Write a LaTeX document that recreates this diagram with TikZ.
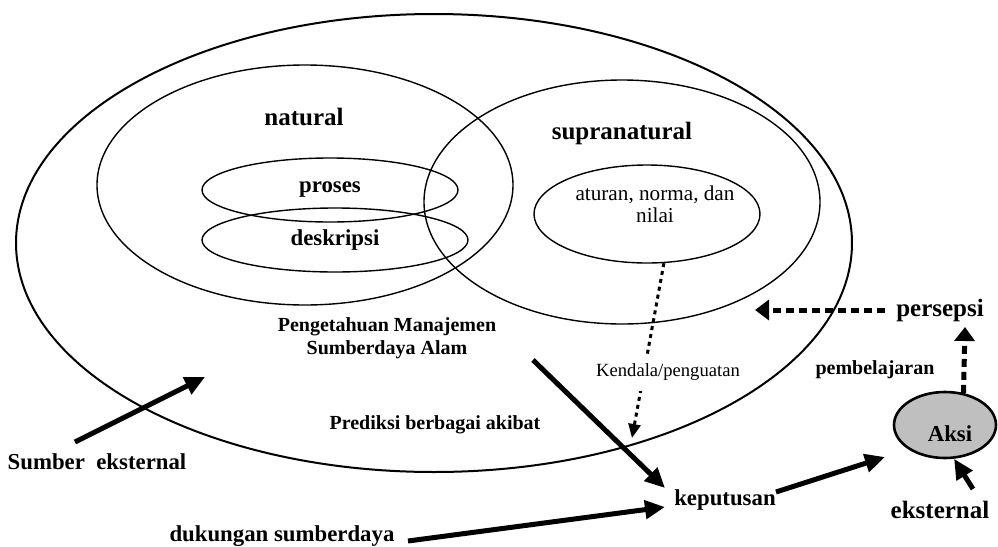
\documentclass[tikz,border=0pt]{standalone}
\usepackage{fontspec}
\setmainfont{Liberation Serif}
\usetikzlibrary{arrows.meta, shapes.geometric}

\begin{document}
\begin{tikzpicture}[x=0.5pt, y=-0.5pt,
  every node/.style={font=\bfseries},
  ring/.style={draw, ellipse, line width=0.7pt, inner sep=0pt},
  big/.style={font=\fontsize{12.5}{14}\selectfont\bfseries},
  mid/.style={font=\fontsize{11.4}{13}\selectfont\bfseries},
  sml/.style={font=\fontsize{10}{11.5}\selectfont\bfseries, align=center},
  reg/.style={font=\fontsize{10.6}{11}\selectfont, align=center},
  arr/.style={-{Triangle[length=10pt, width=9pt]}, line width=2.5pt},
  darr/.style={-{Triangle[length=7pt, width=10pt]}, line width=2.5pt,
               dash pattern=on 4pt off 2.5pt},
  tdarr/.style={-{Triangle[length=7pt, width=6pt]}, line width=1.5pt,
                dash pattern=on 2pt off 2pt}
]
  \useasboundingbox (0,0) rectangle (998,547);

  % Ellipses -- positions in pixels of the 998 x 547 frame
  \node[ring, line width=1pt, minimum width=418pt, minimum height=229pt] (outer) at (434,243) {};
  \node[ring, minimum width=208pt, minimum height=120pt] (natural) at (305,185) {};
  \node[ring, minimum width=198pt, minimum height=122pt] (supra)   at (622,202) {};
  \node[ring, mid, minimum width=128pt, minimum height=32pt] (proses)    at (330,190) {proses};
  \node[ring, mid, minimum width=133pt, minimum height=32pt] (deskripsi) at (335,240) {deskripsi};
  \node[ring, minimum width=113pt, minimum height=49pt] (aturan) at (647,214) {};
  \node[ring, line width=1.3pt, fill=gray!50, minimum width=51pt, minimum height=33pt] (aksi) at (945,425) {};

  % Labels
  \node[big] (naturallbl) at (304,117) {natural};
  \node[big] (supralbl)   at (622,133) {supranatural};
  \node[reg] (aturanlbl)  at (655,204) {aturan, norma, dan\\nilai};
  \node[sml] (pengetahuan) at (387,338) {Pengetahuan Manajemen\\Sumberdaya Alam};
  \node[sml] (prediksi)   at (435,425) {Prediksi berbagai akibat};
  \node[big] (persepsi)   at (940,310) {persepsi};
  \node[sml] (pembelajaran) at (875,370) {pembelajaran};
  \node[mid] (aksilbl)    at (950,434) {Aksi};
  \node[big] (eksternal)  at (940,510) {eksternal};
  \node[mid] (sumber)     at (97,462)  {Sumber\ \ eksternal};
  \node[mid] (dukungan)   at (282,536) {dukungan sumberdaya};
  \node[mid] (keputusan)  at (725,500) {keputusan};

  % Free arrow ends
  \coordinate (sumbertail) at (75,442);
  \coordinate (sumberhead) at (205,377);
  \coordinate (pmtail)     at (533,360);
  \coordinate (kepin)      at (665,488);
  \coordinate (duktail)    at (408,541);
  \coordinate (kepin2)     at (665,507);
  \coordinate (keptail)    at (776,492);
  \coordinate (aksiin)     at (885,457);
  \coordinate (ekstail)    at (973,489);
  \coordinate (perin)      at (965,327);
  \coordinate (pertail)    at (885,310);
  \coordinate (suprain)    at (755,310);
  \coordinate (kendhead)   at (632,438);

  % Solid arrows
  \draw[arr] (sumbertail) -- (sumberhead);
  \draw[arr] (pmtail) -- (kepin);
  \draw[arr] (duktail) -- (kepin2);
  \draw[arr] (keptail) -- (aksiin);
  \draw[arr] (ekstail) -- (aksi.-75);

  % Dotted arrows
  \draw[darr] (aksi.60) -- (perin);
  \draw[darr] (pertail) -- (suprain);
  \draw[tdarr] (aturan.-71) -- (kendhead);
  \node[reg, font=\fontsize{9.3}{10}\selectfont, fill=white, inner xsep=0pt,
        minimum height=18.5pt] (kendala) at (668,372) {Kendala/penguatan};
\end{tikzpicture}
\end{document}
